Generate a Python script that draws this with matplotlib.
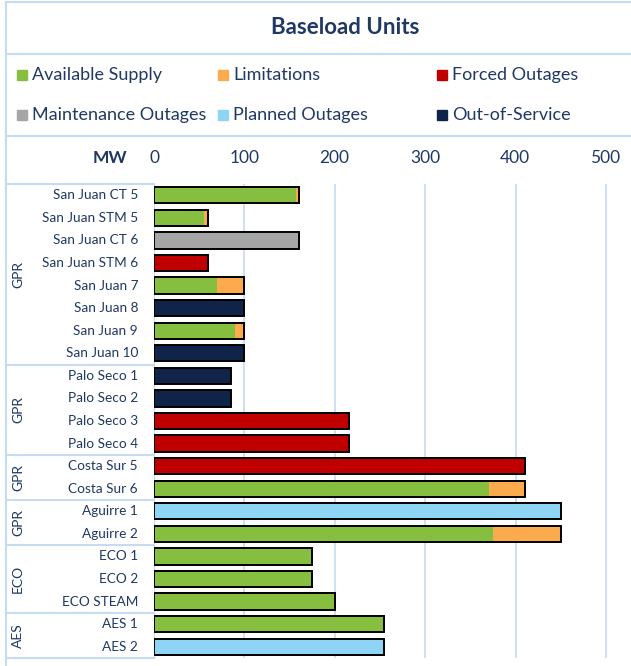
import matplotlib.pyplot as plt
from matplotlib.lines import Line2D
from matplotlib.patches import Rectangle
import numpy as np

# data (MW)
units = ["San Juan CT 5", "San Juan STM 5", "San Juan CT 6", "San Juan STM 6",
         "San Juan 7", "San Juan 8", "San Juan 9", "San Juan 10",
         "Palo Seco 1", "Palo Seco 2", "Palo Seco 3", "Palo Seco 4",
         "Costa Sur 5", "Costa Sur 6", "Aguirre 1", "Aguirre 2",
         "ECO 1", "ECO 2", "ECO STEAM", "AES 1", "AES 2"]
groups = ["GPR", "GPR", "GPR", "GPR", "ECO", "AES"]
group_sizes = [8, 4, 2, 2, 3, 2]

available = [157, 55, 0, 0, 70, 0, 90, 0, 0, 0, 0, 0, 0, 370, 0, 375, 175, 175, 200, 254, 0]
limitations = [3, 5, 0, 0, 30, 0, 10, 0, 0, 0, 0, 0, 0, 40, 0, 75, 0, 0, 0, 0, 0]
forced = [0, 0, 0, 60, 0, 0, 0, 0, 0, 0, 216, 216, 410, 0, 0, 0, 0, 0, 0, 0, 0]
maintenance = [0, 0, 160, 0, 0, 0, 0, 0, 0, 0, 0, 0, 0, 0, 0, 0, 0, 0, 0, 0, 0]
planned = [0, 0, 0, 0, 0, 0, 0, 0, 0, 0, 0, 0, 0, 0, 450, 0, 0, 0, 0, 0, 254]
out_of_service = [0, 0, 0, 0, 0, 100, 0, 100, 85, 85, 0, 0, 0, 0, 0, 0, 0, 0, 0, 0, 0]

series = [("Available Supply", available, "#86BF40"),
          ("Limitations", limitations, "#FBAA4E"),
          ("Forced Outages", forced, "#C00000"),
          ("Maintenance Outages", maintenance, "#A6A6A6"),
          ("Planned Outages", planned, "#8ED5F5"),
          ("Out-of-Service", out_of_service, "#10244A")]

navy = "#1F3864"
border = "#C6DAF2"
W, H = 631, 666
plt.rcParams["font.family"] = ["Lato", "DejaVu Sans"]

fig = plt.figure(figsize=(W / 100, H / 100), dpi=100)


def fx(px):
    return px / W


def fy(py):
    return 1 - py / H


ax = fig.add_axes([fx(154), fy(658), fx(631) - fx(154), fy(184) - fy(658)])
n = len(units)
y = np.arange(n)
left = np.zeros(n)
for name, vals, col in series:
    vals = np.array(vals, dtype=float)
    ax.barh(y, vals, left=left, height=0.72, color=col, edgecolor="none", zorder=3)
    left += vals
ax.barh(y, left, height=0.72, facecolor="none", edgecolor="black", linewidth=1.4, zorder=4)

ax.set_xlim(0, 527.5)
ax.set_ylim(n - 0.5, -0.5)
ax.set_yticks([])
ax.set_xticks([])
for v in [100, 200, 300, 400, 500]:
    ax.axvline(v, color=border, lw=1.2, zorder=1)
for s in ax.spines.values():
    s.set_visible(False)
ax.axvline(0, color=border, lw=1.5, zorder=2)

# tick labels above plot
for v in [0, 100, 200, 300, 400, 500]:
    xp = 154 + v * 0.903
    fig.text(fx(xp), fy(158), str(v), ha="center", va="center", fontsize=12.5, color=navy)
fig.text(fx(110), fy(158), "MW", ha="center", va="center", fontsize=12.5, color=navy,
         fontweight="bold")

# title
fig.text(fx(345), fy(28), "Baseload Units", ha="center", va="center", fontsize=16,
         fontweight="bold", color=navy)

# legend
cols_x = [20, 221, 440]
rows_y = [75, 115]
for i, (name, vals, col) in enumerate(series):
    xp = cols_x[i % 3]
    yp = rows_y[i // 3]
    fig.patches.append(Rectangle((fx(xp - 3), fy(yp + 5)), fx(10), fy(0) - fy(10),
                                 transform=fig.transFigure, color=col))
    fig.text(fx(xp + 12), fy(yp), name, ha="left", va="center", fontsize=13, color=navy)

# frame lines
def hline(py, x0, x1):
    fig.lines.append(Line2D([fx(x0), fx(x1)], [fy(py), fy(py)], color=border, lw=1.5,
                            transform=fig.transFigure))


def vline(px, y0, y1):
    fig.lines.append(Line2D([fx(px), fx(px)], [fy(y0), fy(y1)], color=border, lw=1.5,
                            transform=fig.transFigure))


hline(2, 6, W)
hline(54, 6, W)
hline(136, 6, W)
hline(184, 6, 154)
hline(658, 6, 154)
vline(6, 2, 666)

# category labels and groups
row_h = (658 - 184) / n
for i, u in enumerate(units):
    fig.text(fx(138), fy(184 + (i + 0.5) * row_h), u, ha="right", va="center",
             fontsize=9.8, color=navy)
start = 0
for g, size in zip(groups, group_sizes):
    y0 = 184 + start * row_h
    y1 = 184 + (start + size) * row_h
    fig.text(fx(18), fy((y0 + y1) / 2), g, ha="center", va="center", rotation=90,
             fontsize=10, color=navy)
    if start > 0:
        hline(y0, 6, 154)
    start += size

fig.savefig("out.png", dpi=100)
